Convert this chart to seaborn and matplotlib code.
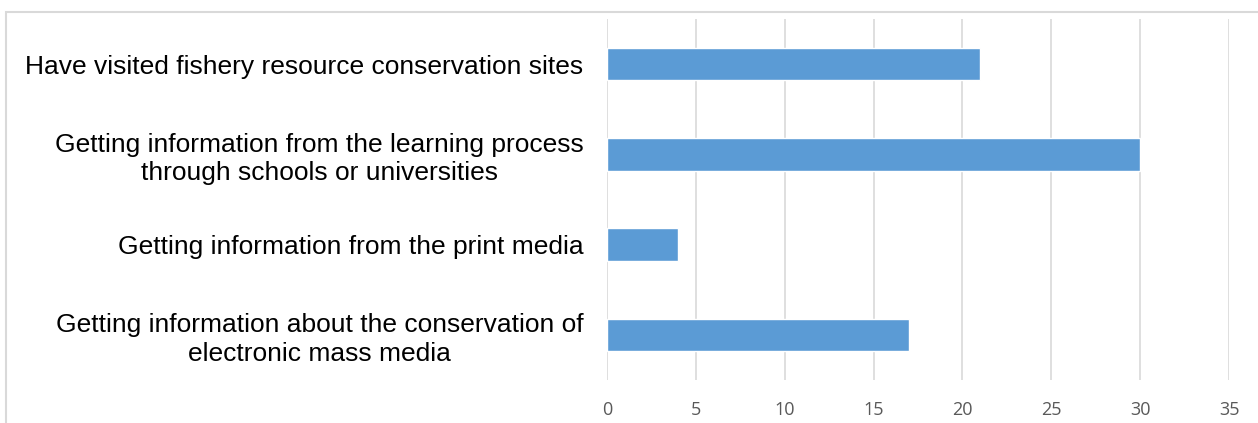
import matplotlib
matplotlib.use("Agg")
import matplotlib.pyplot as plt
import seaborn as sns
import pandas as pd
from matplotlib.patches import Rectangle

categories = [
    "Have visited fishery resource conservation sites",
    "Getting information from the learning process\nthrough schools or universities",
    "Getting information from the print media",
    "Getting information about the conservation of\nelectronic mass media",
]
values = [21, 30, 4, 17]
xticks = [0, 5, 10, 15, 20, 25, 30, 35]

df = pd.DataFrame({"category": categories, "value": values})

sns.set_theme(style="white")
plt.rcParams["font.family"] = ["Liberation Sans", "DejaVu Sans"]

fig = plt.figure(figsize=(12.58, 4.23), dpi=100)
ax = fig.add_axes([607 / 1258, 1 - 380 / 423, (1229 - 607) / 1258, (380 - 19) / 423])

sns.barplot(data=df, x="value", y="category", order=categories, color="#5B9BD5",
            saturation=1, width=0.36, ax=ax)

ax.set_xlim(0, 35)
ax.set_ylim(3.5, -0.5)
ax.set_xticks(xticks)
ax.set_xticklabels([str(t) for t in xticks], fontfamily=["Open Sans", "DejaVu Sans"],
                   fontsize=13, color="#595959")
ax.xaxis.grid(True, color="#d9d9d9", linewidth=1.2)
ax.set_axisbelow(True)
for s in ax.spines.values():
    s.set_visible(False)
ax.tick_params(axis="x", length=0, pad=15)
ax.tick_params(axis="y", length=0, pad=17)
for lbl in ax.get_yticklabels():
    lbl.set_fontsize(19)
    lbl.set_color("#000000")
    lbl.set_multialignment("center")
    lbl.set_linespacing(1.22)
ax.set_xlabel("")
ax.set_ylabel("")

fig.patches.append(Rectangle((6 / 1258, -0.1), 1.2, 1 - 12 / 423 + 0.1,
                             transform=fig.transFigure, fill=False,
                             edgecolor="#d9d9d9", linewidth=1.5, zorder=-1))

fig.savefig("out.png", dpi=100)
